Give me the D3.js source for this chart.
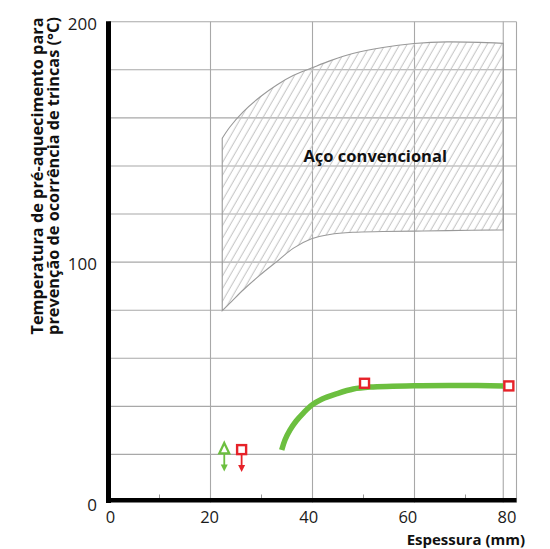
<!DOCTYPE html>
<html><head><meta charset="utf-8">
<script src="https://cdn.jsdelivr.net/npm/d3@7"></script>
<style>
body{margin:0;background:#fff}
text{font-family:"Open Sans","Noto Sans",sans-serif}
</style>
</head><body>
<svg id="chart" width="550" height="549"></svg>
<script>
// ---- data ----
const xTicks = [0, 20, 40, 60, 80];
const xMinorTicks = [10, 30, 50, 70];
const yTicks = [0, 100, 200];
const yGrid = [20, 40, 60, 80, 100, 120, 140, 160, 180, 200];
const xGrid = [20, 40, 60, 77.4, 80];

// "Aço convencional" band (hatched)
const bandX     = [22.3, 23.8, 26.4, 29.7, 33.0, 36.2, 39.8, 43.4, 47.9, 53.8, 59.9, 66.4, 77.4];
const bandUpper = [151.5, 156.2, 162.5, 168.7, 173.7, 177.6, 180.7, 183.7, 186.8, 189.3, 190.9, 191.6, 191.0];
const bandLower = [79.8, 82.9, 88.4, 94.6, 100.2, 105.7, 109.7, 111.5, 112.4, 112.7, 112.9, 113.1, 113.4];
const bandLabel = "Aço convencional";

// green curve
const curveX = [33.96, 34.6, 35.6, 36.8, 38.2, 39.9, 41.9, 44.8, 48.0, 51.3, 59.9, 68.9, 77.4];
const curveY = [21.8, 26.0, 30.2, 33.9, 37.2, 40.6, 43.1, 45.3, 47.2, 48.0, 48.6, 48.7, 48.5];

// red square points (arrow = upper bound marker)
const squareX = [26.1, 50.2, 78.5];
const squareY = [22.0, 49.6, 48.5];
const squareArrow = [true, false, false];

// green triangle points
const triX = [22.7];
const triY = [22.5];
const triArrow = [true];

const xTitle = "Espessura (mm)";
const yTitle = ["Temperatura de pré-aquecimento para", "prevenção de ocorrência de trincas (°C)"];

// ---- drawing ----
const svg = d3.select("#chart");
const x = d3.scaleLinear().domain([0, 80]).range([108.5, 516.5]);
const y = d3.scaleLinear().domain([0, 200]).range([502.5, 21.7]);
const xLabel = d3.scaleLinear().domain([0, 80]).range([110.5, 507]);

const green = "#6cbf3f", red = "#e62229", gridC = "#a8a8a8";

const defs = svg.append("defs");
const pat = defs.append("pattern").attr("id", "hatch")
  .attr("patternUnits", "userSpaceOnUse").attr("width", 6.3).attr("height", 10)
  .attr("patternTransform", "rotate(30)");
pat.append("line").attr("x1", 3).attr("x2", 3).attr("y1", -1).attr("y2", 11)
  .attr("stroke", "#c2c2c2").attr("stroke-width", 1);

// grid
const g = svg.append("g");
g.selectAll(".hg").data(yGrid).join("line")
  .attr("x1", x(0)).attr("x2", x(80)).attr("y1", d => y(d)).attr("y2", d => y(d))
  .attr("stroke", gridC).attr("stroke-width", 1.1);
g.selectAll(".vg").data(xGrid).join("line")
  .attr("y1", y(0)).attr("y2", y(200)).attr("x1", d => x(d)).attr("x2", d => x(d))
  .attr("stroke", gridC).attr("stroke-width", 1.1);

// band
const bandData = bandX.map((d, i) => ({x: d, lo: bandLower[i], hi: bandUpper[i]}));
const area = d3.area().x(d => x(d.x)).y0(d => y(d.lo)).y1(d => y(d.hi))
  .curve(d3.curveCatmullRom.alpha(0.5));
svg.append("path").datum(bandData).attr("d", area)
  .attr("fill", "url(#hatch)").attr("stroke", "#999").attr("stroke-width", 1.1);

svg.append("text").attr("x", x(52.3)).attr("y", y(144.5)).attr("text-anchor", "middle")
  .attr("dominant-baseline", "central").attr("font-weight", 700).attr("font-size", 16.5)
  .attr("fill", "#111").text(bandLabel);

// green curve
const curveData = curveX.map((d, i) => [d, curveY[i]]);
svg.append("path").datum(curveData)
  .attr("d", d3.line().x(d => x(d[0])).y(d => y(d[1])).curve(d3.curveCatmullRom.alpha(0.5)))
  .attr("fill", "none").attr("stroke", green).attr("stroke-width", 5.5);

// minor ticks
svg.selectAll(".mt").data(xMinorTicks).join("line")
  .attr("x1", d => x(d)).attr("x2", d => x(d)).attr("y1", y(0) - 8).attr("y2", y(0) - 3)
  .attr("stroke", "#999").attr("stroke-width", 1);

// axes (thick black)
svg.append("line").attr("x1", x(0)).attr("x2", x(0)).attr("y1", y(200) - 0.5).attr("y2", y(0) + 0.5)
  .attr("stroke", "#000").attr("stroke-width", 5);
svg.append("line").attr("x1", x(0) - 2.5).attr("x2", x(80)).attr("y1", y(0) - 2.2).attr("y2", y(0) - 2.2)
  .attr("stroke", "#000").attr("stroke-width", 4.5);

// arrows
function downArrow(cx, top, color) {
  svg.append("line").attr("x1", cx).attr("x2", cx).attr("y1", top).attr("y2", top + 13)
    .attr("stroke", color).attr("stroke-width", 1.8);
  svg.append("path").attr("d", `M${cx - 3.5},${top + 11} L${cx + 3.5},${top + 11} L${cx},${top + 18} Z`)
    .attr("fill", color);
}

// triangles
triX.forEach((d, i) => {
  const cx = x(d), cy = y(triY[i]);
  if (triArrow[i]) downArrow(cx, cy + 5, green);
  svg.append("path").attr("d", `M${cx},${cy - 5.5} L${cx + 5},${cy + 5} L${cx - 5},${cy + 5} Z`)
    .attr("fill", "#fff").attr("stroke", green).attr("stroke-width", 2.2);
});

// squares
squareX.forEach((d, i) => {
  const cx = x(d), cy = y(squareY[i]);
  if (squareArrow[i]) downArrow(cx, cy + 4.5, red);
  svg.append("rect").attr("x", cx - 4.5).attr("y", cy - 4.5).attr("width", 9).attr("height", 9)
    .attr("fill", "#fff").attr("stroke", red).attr("stroke-width", 2.4);
});

// tick labels
svg.selectAll(".xl").data(xTicks).join("text")
  .attr("x", d => xLabel(d)).attr("y", 522.5).attr("text-anchor", "middle")
  .attr("font-size", 16.5).attr("fill", "#1a1a1a").text(d => d);
svg.selectAll(".yl").data(yTicks).join("text")
  .attr("x", 97).attr("y", d => y(d) + 1.5).attr("text-anchor", "end")
  .attr("dominant-baseline", "central")
  .attr("font-size", 17).attr("fill", "#1a1a1a").text(d => d);

// titles
svg.append("text").attr("x", 525).attr("y", 544.5).attr("text-anchor", "end")
  .attr("font-size", 15).attr("font-weight", 700).attr("fill", "#111").text(xTitle);
yTitle.forEach((t, i) => {
  svg.append("text").attr("transform", `translate(${43 + i * 15.5},176) rotate(-90)`)
    .attr("text-anchor", "middle").attr("font-size", 16.3).attr("font-weight", 700)
    .attr("fill", "#111").text(t);
});
</script>
</body></html>
